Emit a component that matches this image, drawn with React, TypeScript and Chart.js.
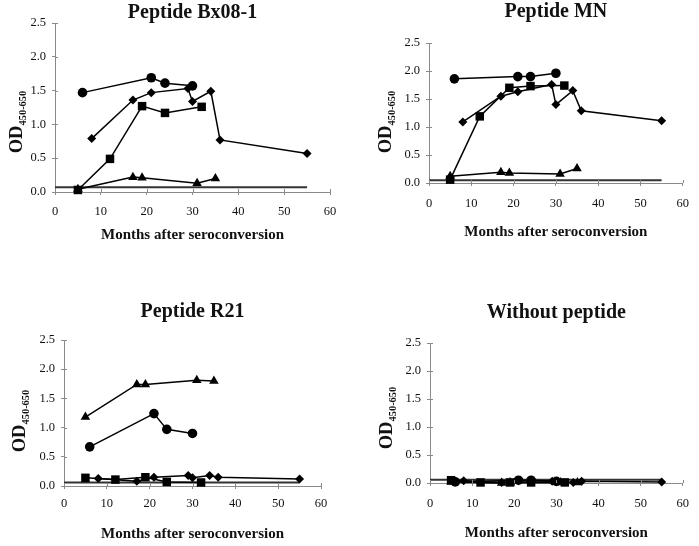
import { useEffect, useRef } from "react";
import { Chart, registerables } from "chart.js";
Chart.register(...registerables);

// ---- data ----
const monthsCircle = [6, 21, 24, 30];
const monthsDiamond = [8, 17, 21, 29, 30, 34, 36, 55];
const monthsSquare = [5, 12, 19, 24, 32];
const monthsTriangle = [5, 17, 19, 31, 35];
const cutoffMonths = [0, 55];

const xTickValues = [0, 10, 20, 30, 40, 50, 60];
const yTickValues = [0, 0.5, 1.0, 1.5, 2.0, 2.5];

const bx08Circle = [1.47, 1.69, 1.61, 1.57];
const bx08Diamond = [0.79, 1.36, 1.47, 1.53, 1.34, 1.49, 0.77, 0.57];
const bx08Square = [0.03, 0.49, 1.27, 1.17, 1.26];
const bx08Triangle = [0.04, 0.22, 0.21, 0.13, 0.2];
const bx08Cutoff = [0.07, 0.07];

const mnCircle = [1.86, 1.9, 1.9, 1.96];
const mnDiamond = [1.09, 1.55, 1.63, 1.76, 1.4, 1.65, 1.29, 1.11];
const mnSquare = [0.06, 1.19, 1.7, 1.73, 1.74];
const mnTriangle = [0.12, 0.19, 0.18, 0.16, 0.26];
const mnCutoff = [0.05, 0.05];

const r21Circle = [0.67, 1.24, 0.97, 0.9];
const r21Diamond = [0.13, 0.08, 0.15, 0.18, 0.14, 0.18, 0.15, 0.12];
const r21Square = [0.14, 0.11, 0.15, 0.07, 0.06];
const r21Triangle = [1.18, 1.74, 1.74, 1.81, 1.8];
const r21Cutoff = [0.06, 0.06];

const noneCircle = [0.02, 0.05, 0.05, 0.03];
const noneDiamond = [0.04, 0.01, 0.04, 0.03, 0.02, 0.01, 0.03, 0.02];
const noneSquare = [0.05, 0.01, 0.01, 0.01, 0.01];
const noneTriangle = [0.02, 0.0, 0.01, 0.01, 0.01];
const noneCutoff = [0.06, 0.06];

const titles = ["Peptide Bx08-1", "Peptide MN", "Peptide R21", "Without peptide"];
const xTitle = "Months after seroconversion";
const yTitleMain = "OD";
const yTitleSub = "450-650";

// ---- layout (page coords) ----
type Panel = {
  title: string;
  circle: number[];
  diamond: number[];
  square: number[];
  triangle: number[];
  cutoff: number[];
  canvas: { left: number; top: number; width: number; height: number };
  area: { left: number; right: number; top: number; bottom: number };
  titleY: number;
  xTitleY: number;
  yTitleX: number;
  yTitleY: number;
  xTickPad: number;
};

const panels: Panel[] = [
  {
    title: titles[0], circle: bx08Circle, diamond: bx08Diamond, square: bx08Square, triangle: bx08Triangle, cutoff: bx08Cutoff,
    canvas: { left: 0, top: 0, width: 350, height: 273 },
    area: { left: 55, right: 330, top: 23, bottom: 192 },
    titleY: 13, xTitleY: 235, yTitleX: 22, yTitleY: 122, xTickPad: 9,
  },
  {
    title: titles[1], circle: mnCircle, diamond: mnDiamond, square: mnSquare, triangle: mnTriangle, cutoff: mnCutoff,
    canvas: { left: 350, top: 0, width: 349, height: 273 },
    area: { left: 429, right: 683, top: 43, bottom: 183 },
    titleY: 12, xTitleY: 232, yTitleX: 391, yTitleY: 122, xTickPad: 10,
  },
  {
    title: titles[2], circle: r21Circle, diamond: r21Diamond, square: r21Square, triangle: r21Triangle, cutoff: r21Cutoff,
    canvas: { left: 0, top: 273, width: 350, height: 273 },
    area: { left: 64, right: 321, top: 340, bottom: 486 },
    titleY: 312, xTitleY: 534, yTitleX: 25, yTitleY: 421, xTickPad: 7,
  },
  {
    title: titles[3], circle: noneCircle, diamond: noneDiamond, square: noneSquare, triangle: noneTriangle, cutoff: noneCutoff,
    canvas: { left: 350, top: 273, width: 349, height: 273 },
    area: { left: 430, right: 687, top: 343, bottom: 483 },
    titleY: 313, xTitleY: 533, yTitleX: 392, yTitleY: 418, xTickPad: 10,
  },
];

const Y_W = 40;
const X_H = 30;
const FONT = '"Liberation Serif", "Times New Roman", serif';

const toPts = (xs: number[], ys: number[]) => xs.map((x, i) => ({ x, y: ys[i] }));

const textPlugin = {
  id: "panelText",
  afterDraw(chart: any, _args: any, opts: any) {
    const p: Panel = opts.panel;
    const { ctx, chartArea } = chart;
    const ox = p.canvas.left;
    const oy = p.canvas.top;
    const cx = (chartArea.left + chartArea.right) / 2;
    ctx.save();
    // inner tick marks
    ctx.strokeStyle = "#8a8a8a";
    ctx.lineWidth = 1;
    const xs = chart.scales.x;
    const ys = chart.scales.y;
    ctx.beginPath();
    for (const v of xTickValues) {
      const px = Math.round(xs.getPixelForValue(v)) + 0.5;
      ctx.moveTo(px, chartArea.bottom);
      ctx.lineTo(px, chartArea.bottom - 3);
    }
    for (const v of yTickValues) {
      const py = Math.round(ys.getPixelForValue(v)) + 0.5;
      ctx.moveTo(chartArea.left, py);
      ctx.lineTo(chartArea.left + 3, py);
    }
    ctx.stroke();

    ctx.fillStyle = "#111";
    ctx.textAlign = "center";
    ctx.textBaseline = "middle";
    ctx.font = `bold 20px ${FONT}`;
    ctx.fillText(p.title, cx, p.titleY - oy);
    ctx.font = `bold 15px ${FONT}`;
    ctx.fillText(xTitle, cx, p.xTitleY - oy);

    // y title with subscript
    ctx.translate(p.yTitleX - ox, p.yTitleY - oy);
    ctx.rotate(-Math.PI / 2);
    ctx.textAlign = "left";
    ctx.textBaseline = "alphabetic";
    ctx.font = `bold 18.5px ${FONT}`;
    const w1 = ctx.measureText(yTitleMain).width;
    ctx.font = `bold 10.5px ${FONT}`;
    const w2 = ctx.measureText(yTitleSub).width;
    const start = -(w1 + w2) / 2;
    ctx.font = `bold 18.5px ${FONT}`;
    ctx.fillText(yTitleMain, start, 0);
    ctx.font = `bold 10.5px ${FONT}`;
    ctx.fillText(yTitleSub, start + w1, 3.5);
    ctx.restore();
  },
};

function series(data: any[], style: string, radius: number) {
  return {
    data,
    borderColor: "#000",
    backgroundColor: "#000",
    borderWidth: 1.5,
    pointStyle: style,
    pointRadius: radius,
    pointBorderWidth: 0,
    pointBackgroundColor: "#000",
    showLine: true,
    tension: 0,
    clip: false,
  };
}

function PanelChart({ p }: { p: Panel }) {
  const ref = useRef<HTMLCanvasElement | null>(null);
  useEffect(() => {
    if (!ref.current) return;
    const c = p.canvas;
    const chart = new Chart(ref.current, {
      type: "scatter",
      data: {
        datasets: [
          series(toPts(monthsCircle, p.circle), "circle", 4.8),
          series(toPts(monthsSquare, p.square), "rect", 6),
          series(toPts(monthsTriangle, p.triangle), "triangle", 5.5),
          series(toPts(monthsDiamond, p.diamond), "rectRot", 4.5),
          {
            data: toPts(cutoffMonths, p.cutoff),
            borderColor: "#333",
            borderWidth: 2,
            pointRadius: 0,
            showLine: true,
            clip: false,
          } as any,
        ],
      },
      options: {
        responsive: false,
        animation: false,
        events: [],
        layout: {
          padding: {
            left: p.area.left - c.left - Y_W,
            right: c.left + c.width - p.area.right,
            top: p.area.top - c.top,
            bottom: c.top + c.height - p.area.bottom - X_H,
          },
        },
        plugins: {
          legend: { display: false },
          tooltip: { enabled: false },
          title: { display: false },
          panelText: { panel: p },
        } as any,
        scales: {
          x: {
            type: "linear",
            min: 0,
            max: 60,
            afterBuildTicks: (s: any) => {
              s.ticks = xTickValues.map((v) => ({ value: v }));
            },
            afterFit: (s: any) => {
              s.height = X_H;
            },
            grid: { drawOnChartArea: false, drawTicks: true, tickLength: 3, color: "#8a8a8a", lineWidth: 1 },
            border: { color: "#8a8a8a", width: 1 },
            ticks: {
              padding: p.xTickPad,
              maxRotation: 0,
              color: "#111",
              font: { family: FONT, size: 12.5 },
              callback: (v: any) => String(v),
            },
          },
          y: {
            type: "linear",
            min: 0,
            max: 2.5,
            afterBuildTicks: (s: any) => {
              s.ticks = yTickValues.map((v) => ({ value: v }));
            },
            afterFit: (s: any) => {
              s.width = Y_W;
            },
            grid: { drawOnChartArea: false, drawTicks: true, tickLength: 3, color: "#8a8a8a", lineWidth: 1 },
            border: { color: "#8a8a8a", width: 1 },
            ticks: {
              padding: 6,
              color: "#111",
              font: { family: FONT, size: 12.5 },
              callback: (v: any) => Number(v).toFixed(1),
            },
          },
        },
      } as any,
      plugins: [textPlugin],
    });
    return () => chart.destroy();
  }, [p]);
  return (
    <canvas
      ref={ref}
      width={p.canvas.width}
      height={p.canvas.height}
      style={{
        position: "absolute",
        left: p.canvas.left,
        top: p.canvas.top,
        width: p.canvas.width,
        height: p.canvas.height,
      }}
    />
  );
}

export default function App() {
  return (
    <div style={{ position: "absolute", left: 0, top: 0, width: 699, height: 546, background: "#fff" }}>
      {panels.map((p, i) => (
        <PanelChart key={i} p={p} />
      ))}
    </div>
  );
}
